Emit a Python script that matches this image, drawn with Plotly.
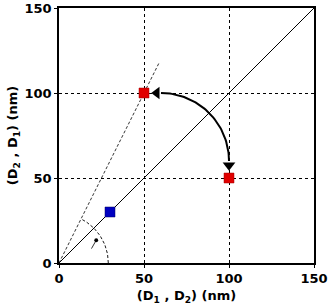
import numpy as np
import plotly.graph_objects as go

# data
red_x = [50, 100]
red_y = [100, 50]
blue_x = [30]
blue_y = [30]
diag_x = [0, 150]
diag_y = [0, 150]
dash_x = [0, 59]
dash_y = [0, 118]
tick_vals = [0, 50, 100, 150]
tick_text = ["0", "50", "100", "150"]

fig = go.Figure()
fig.add_trace(go.Scatter(x=diag_x, y=diag_y, mode="lines",
                         line=dict(color="black", width=1), hoverinfo="skip"))
fig.add_trace(go.Scatter(x=dash_x, y=dash_y, mode="lines",
                         line=dict(color="black", width=0.8, dash="3px,2px"), hoverinfo="skip"))
# small dashed angle arc
t = np.linspace(0, np.arctan(2), 40)
r = 29
fig.add_trace(go.Scatter(x=r*np.cos(t), y=r*np.sin(t), mode="lines",
                         line=dict(color="black", width=0.9, dash="3px,2px"), hoverinfo="skip"))
# big curved double arrow
t2 = np.linspace(np.pi/2, 0, 60)
cx, cy, R = 60, 60, 40
fig.add_trace(go.Scatter(x=cx + R*np.cos(t2), y=cy + R*np.sin(t2), mode="lines",
                         line=dict(color="black", width=2), hoverinfo="skip"))
fig.add_trace(go.Scatter(x=[57.5], y=[100], mode="markers",
                         marker=dict(symbol="triangle-left", size=11, color="black"), hoverinfo="skip"))
fig.add_trace(go.Scatter(x=[100], y=[57.5], mode="markers",
                         marker=dict(symbol="triangle-down", size=11, color="black"), hoverinfo="skip"))

fig.add_trace(go.Scatter(x=red_x, y=red_y, mode="markers",
                         marker=dict(symbol="square", size=10, color="#e00000",
                                     line=dict(color="#a00000", width=0.5))))
fig.add_trace(go.Scatter(x=blue_x, y=blue_y, mode="markers",
                         marker=dict(symbol="square", size=10, color="#0000c0",
                                     line=dict(color="#000060", width=0.5))))

# small arrow inside angle
fig.add_annotation(x=21.9, y=13.4, ax=18.6, ay=7.6, xref="x", yref="y", axref="x", ayref="y",
                   showarrow=True, arrowhead=6, arrowsize=1.2, arrowwidth=0.8, arrowcolor="black", text="")

axis_common = dict(range=[0, 150], tickvals=tick_vals, ticktext=tick_text,
                   showgrid=True, gridcolor="black", griddash="dot", gridwidth=1,
                   showline=True, linecolor="black", linewidth=1.5, mirror=True,
                   zeroline=False, ticks="outside", ticklen=3, tickcolor="black", tickwidth=1,
                   automargin=False,
                   tickfont=dict(family="DejaVu Sans", size=13, color="black", weight="bold"))

fig.update_layout(
    width=334, height=308,
    margin=dict(l=59, r=20, t=8, b=45),
    plot_bgcolor="white", paper_bgcolor="white",
    showlegend=False,
    xaxis=dict(**axis_common,
               title=dict(text="(D<sub>1</sub> , D<sub>2</sub>) (nm)", standoff=6,
                          font=dict(family="DejaVu Sans", size=13, color="black", weight="bold"))),
    yaxis=dict(**axis_common,
               title=dict(text="(D<sub>2</sub> , D<sub>1</sub>) (nm)", standoff=4,
                          font=dict(family="DejaVu Sans", size=13, color="black", weight="bold"))),
)

fig.write_html("out.html")
